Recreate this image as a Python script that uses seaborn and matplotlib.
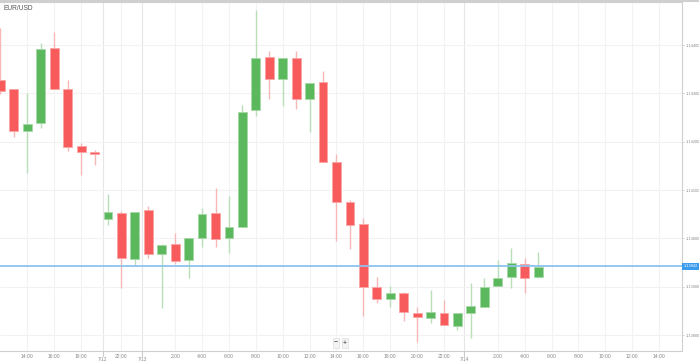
import numpy as np
import pandas as pd
import matplotlib
matplotlib.use("Agg")
import matplotlib.pyplot as plt
import matplotlib.transforms as mtransforms
from matplotlib.lines import Line2D
import seaborn as sns

# ---------------- data ----------------
opens = [1.14328, 1.14309, 1.14222, 1.14239, 1.14394, 1.14309, 1.14191, 1.14179,
         1.14040, 1.14052, 1.13957, 1.14059, 1.13968, 1.13988, 1.13955, 1.14001,
         1.14052, 1.14001, 1.14023, 1.14266, 1.14375, 1.14330, 1.14373, 1.14288,
         1.14323, 1.14158, 1.14075, 1.14030, 1.13899, 1.13874, 1.13887, 1.13846,
         1.13835, 1.13846, 1.13819, 1.13846, 1.13858, 1.13901, 1.13920, 1.13947,
         1.13920]
highs = [1.14435, 1.14309, 1.14301, 1.14404, 1.14427, 1.14328, 1.14197, 1.14183,
         1.14092, 1.14057, 1.14054, 1.14067, 1.13988, 1.14011, 1.14001, 1.14063,
         1.14104, 1.14088, 1.14276, 1.14472, 1.14388, 1.14373, 1.14388, 1.14321,
         1.14346, 1.14174, 1.14079, 1.14042, 1.13920, 1.13901, 1.13889, 1.13858,
         1.13893, 1.13872, 1.13846, 1.13908, 1.13918, 1.13955, 1.13980, 1.13959,
         1.13972]
lows = [1.14299, 1.14210, 1.14135, 1.14228, 1.14309, 1.14181, 1.14131, 1.14152,
        1.14028, 1.13897, 1.13945, 1.13959, 1.13856, 1.13947, 1.13918, 1.13982,
        1.13982, 1.13970, 1.14023, 1.14253, 1.14288, 1.14274, 1.14268, 1.14220,
        1.14158, 1.13994, 1.13978, 1.13839, 1.13866, 1.13858, 1.13829, 1.13786,
        1.13825, 1.13821, 1.13810, 1.13794, 1.13858, 1.13901, 1.13897, 1.13887,
        1.13918]
closes = [1.14305, 1.14222, 1.14237, 1.14392, 1.14309, 1.14189, 1.14179, 1.14174,
          1.14054, 1.13959, 1.14054, 1.13968, 1.13986, 1.13953, 1.14001, 1.14050,
          1.13999, 1.14023, 1.14261, 1.14373, 1.14330, 1.14373, 1.14288, 1.14321,
          1.14158, 1.14075, 1.14028, 1.13899, 1.13874, 1.13887, 1.13848, 1.13837,
          1.13848, 1.13821, 1.13846, 1.13860, 1.13899, 1.13918, 1.13949, 1.13918,
          1.13941]

symbol = "EUR/USD"
current_price = 1.13942
y_ticks = [1.13800, 1.13900, 1.14000, 1.14100, 1.14200, 1.14300, 1.14400]
time_tick_pos = [2, 4, 6, 9, 13, 15, 17, 19, 21, 23, 25, 27, 29, 31, 33, 37, 39, 41, 43, 45, 47, 49]
time_tick_labels = ["14:00", "16:00", "18:00", "22:00", "2:00", "4:00", "6:00", "8:00",
                    "10:00", "12:00", "14:00", "16:00", "18:00", "20:00", "22:00",
                    "2:00", "4:00", "6:00", "8:00", "10:00", "12:00", "14:00"]
date_tick_pos = [7.6, 10.56, 34.5]
date_tick_labels = ["7/12", "7/13", "7/14"]

df = pd.DataFrame({"open": opens, "high": highs, "low": lows, "close": closes})
df["idx"] = np.arange(len(df))
df["up"] = df["close"] >= df["open"]

# ---------------- style ----------------
sns.set_theme(style="white")
plt.rcParams["font.family"] = ["Liberation Sans", "DejaVu Sans"]

GREEN = "#5cb85c"
RED = "#f75b5b"
GREEN_W = "#b9dfb9"
RED_W = "#f8b7b7"
TXT = "#888888"

fig = plt.figure(figsize=(6.99, 3.64), dpi=100)
ax = fig.add_axes([0.0, 13 / 364, 682 / 699, (351 - 2) / 364])

# grid
for p in time_tick_pos:
    ax.axvline(p, color="#f2f2f2", lw=0.8, zorder=0)
for p in date_tick_pos:
    ax.axvline(p, color="#e6e6e6", lw=0.8, zorder=0)
for v in y_ticks:
    ax.axhline(v, color="#f2f2f2", lw=0.8, zorder=0)

# wicks
for up, wc in [(True, GREEN_W), (False, RED_W)]:
    d = df[df["up"] == up]
    ax.vlines(d["idx"], d["low"], d["high"], color=wc, lw=1.0, zorder=2)

# bodies
for up, c, ec in [(True, GREEN, "#a6d8a6"), (False, RED, "#fba6a6")]:
    d = df[df["up"] == up]
    bottom = np.minimum(d["open"], d["close"])
    height = np.maximum(np.abs(d["close"] - d["open"]), 0.00003)
    ax.bar(d["idx"], height, bottom=bottom, width=0.66, color=c,
           edgecolor=ec, linewidth=0.6, zorder=3)

# current price line
ax.axhline(current_price, color="#8ec3ee", lw=1.3, zorder=4)

ax.set_xlim(-0.03, 50.7)
ax.set_ylim(1.13767, 1.14489)

# spines
ax.spines["left"].set_visible(False)
for s in ["right", "bottom", "top"]:
    ax.spines[s].set_color("#cfcfcf")
ax.spines["top"].set_linewidth(1.5)
ax.spines["right"].set_linewidth(0.8)
ax.spines["bottom"].set_linewidth(0.8)

# x ticks
ax.set_xticks(time_tick_pos)
ax.set_xticklabels(time_tick_labels)
ax.tick_params(axis="x", length=0, pad=2.5, labelsize=3.6, labelcolor=TXT)
trans = mtransforms.blended_transform_factory(ax.transData, ax.transAxes)
for p, lab in zip(date_tick_pos, date_tick_labels):
    ax.add_line(Line2D([p, p], [0, -0.015], transform=trans, color="#cccccc",
                       lw=0.8, clip_on=False))
    ax.text(p, -0.017, lab, transform=trans, ha="center", va="top",
            fontsize=3.4, color=TXT, clip_on=False)

# y ticks on right
ax.yaxis.tick_right()
ax.set_yticks(y_ticks)
ax.set_yticklabels([f"{v:.5f}" for v in y_ticks])
ax.tick_params(axis="y", length=1.5, width=0.6, color="#cccccc", pad=1,
               labelsize=2.8, labelcolor=TXT)
ax.set_xlabel("")
ax.set_ylabel("")

# current price label
ax.text(1.0025, current_price, f"{current_price:.5f}",
        transform=mtransforms.blended_transform_factory(ax.transAxes, ax.transData),
        ha="left", va="center", fontsize=2.8, color="white", clip_on=False,
        bbox=dict(boxstyle="square,pad=0.4", fc="#3b9bec", ec="none"), zorder=6)

# title
fig.text(3 / 699, 1 - 9 / 364, symbol, fontsize=4.8, color="#555555", ha="left", va="center")

# top border across full width
fig.add_artist(Line2D([0, 1], [1 - 1 / 364, 1 - 1 / 364], transform=fig.transFigure,
                      color="#cfcfcf", lw=1.5))

# zoom controls
for xp, sym in [(336, "−"), (345, "+")]:
    fig.text(xp / 699, 1 - 343 / 364, sym, fontsize=5, color="#333333",
             ha="center", va="center",
             bbox=dict(boxstyle="square,pad=0.15", fc="#f4f4f4", ec="#dddddd", lw=0.5))

fig.savefig("out.png", dpi=100, facecolor="white")
